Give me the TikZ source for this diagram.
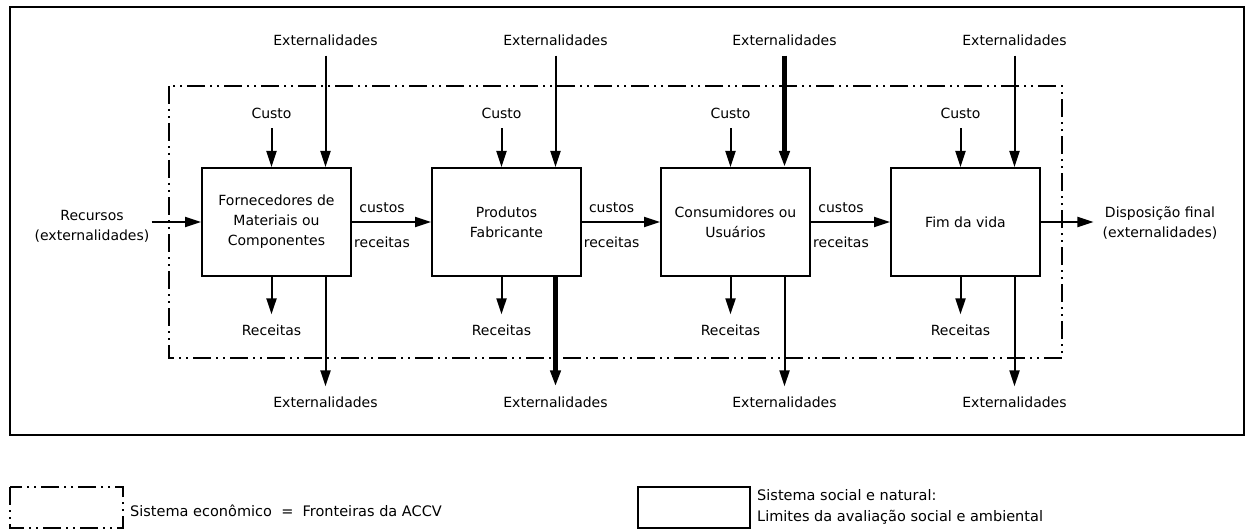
\documentclass[tikz,border=0pt]{standalone}
\usepackage{fontspec}
\setmainfont{DejaVu Sans}
\usetikzlibrary{arrows.meta}

\tikzset{
  stage/.style={draw,line width=2pt,minimum width=149pt,minimum height=108pt,
    align=center,font=\fontsize{14}{20}\selectfont},
  lbl/.style={align=center,inner xsep=2pt,inner ysep=10pt,font=\fontsize{14}{20}\selectfont},
  flow/.style={->,line width=2pt},
  dashdotdot/.style={line width=2pt,dash pattern=on 18pt off 5pt on 2pt off 5pt on 2pt off 5pt},
}

\begin{document}
\begin{tikzpicture}[x=1pt,y=-1pt,>={Triangle[length=16pt,width=10pt]}]
  \useasboundingbox (0,0) rectangle (1248,532);
  % social and natural system:
  \draw[line width=2pt] (10,7) rectangle (1244,435);
  % economic system:
  \draw[dashdotdot] (169,86) rectangle (1062,358);

  % life cycle stages:
  \foreach \i/\x/\wt/\wb/\txt in {1/276.5/2/2/{Fornecedores de\\Materiais ou\\Componentes},
      2/506.5/2/5/{Produtos\\Fabricante},
      3/735.5/5/2/{Consumidores ou\\Usuários},
      4/965.5/2/2/{Fim da vida}}
  {
    \node[stage] (b\i) at (\x,222) {\txt};
    \node[lbl] (c\i) at (\x-5,113) {Custo};
    \node[lbl] (et\i) at (\x+49,40) {Externalidades};
    \node[lbl] (r\i) at (\x-5,330) {Receitas};
    \node[lbl] (eb\i) at (\x+49,402) {Externalidades};
    \draw[flow] (c\i) -- (c\i |- b\i.north);
    \draw[flow,line width=\wt pt] (et\i) -- (et\i |- b\i.north);
    \draw[flow] (r\i |- b\i.south) -- (r\i);
    \draw[flow,line width=\wb pt] (eb\i |- b\i.south) -- (eb\i);
  }

  % flows between stages:
  \foreach \i/\j in {1/2,2/3,3/4}
    \draw[flow] (b\i) -- (b\j)
      node[lbl,pos=0.38,above=-2pt] (cu\i) {custos}
      node[lbl,pos=0.38,below=4pt] (re\i) {receitas};

  % inputs and outputs:
  \node[lbl] (rec) at (92,226) {Recursos\\(externalidades)};
  \draw[flow] (rec.east |- b1) -- (b1);
  \node[lbl] (disp) at (1160,223) {Disposição final\\(externalidades)};
  \draw[flow,shorten >=7pt] (b4) -- (b4 -| disp.west);

  % legend:
  \draw[dashdotdot] (10,487) rectangle (123,528);
  \node[lbl,anchor=west,font=\fontsize{14.5}{21}\selectfont] (leg1) at (128,511)
    {Sistema econômico\ \ =\ \ Fronteiras da ACCV};
  \draw[line width=2pt] (638,487) rectangle (750,528);
  \node[lbl,anchor=west,align=left,font=\fontsize{14.5}{21}\selectfont] (leg2) at (755,507)
    {Sistema social e natural:\\Limites da avaliação social e ambiental};
\end{tikzpicture}
\end{document}
